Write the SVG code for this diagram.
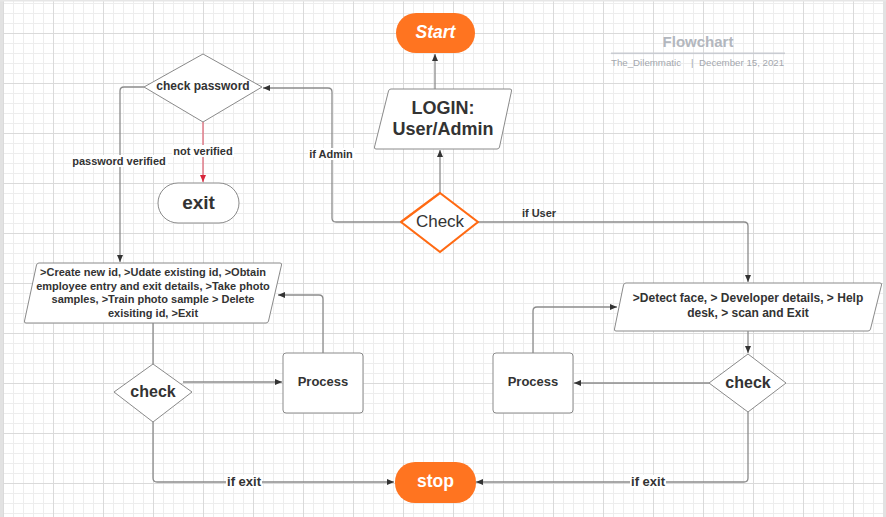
<svg xmlns="http://www.w3.org/2000/svg" width="886" height="517" viewBox="0 0 886 517">
<defs>
<pattern id="gmin" width="10" height="10" patternUnits="userSpaceOnUse" x="3" y="3"><path d="M0,0.5 H10 M0.5,0 V10" stroke="#ededed" stroke-width="1" fill="none"/></pattern>
<pattern id="gmaj" width="50" height="50" patternUnits="userSpaceOnUse" x="3" y="33"><path d="M0,0.5 H50 M0.5,0 V50" stroke="#dadada" stroke-width="1" fill="none"/></pattern>
<marker id="arr" markerWidth="8" markerHeight="8" refX="7" refY="4" orient="auto" markerUnits="userSpaceOnUse"><path d="M0,1 L7,4 L0,7 z" fill="#333"/></marker>
<marker id="arrR" markerWidth="8" markerHeight="8" refX="7" refY="4" orient="auto" markerUnits="userSpaceOnUse"><path d="M0,1 L7,4 L0,7 z" fill="#d8263a"/></marker>
<style>
.con{fill:none;stroke:#8c8c8c;stroke-width:1.3}
.shape{fill:#fff;stroke:#8a8a8a;stroke-width:1}
.t{font-family:"Liberation Sans",Arial,sans-serif;font-weight:bold;fill:#333;text-anchor:middle;dominant-baseline:central}
.lbl{font-family:"Liberation Sans",Arial,sans-serif;font-weight:bold;fill:#333;font-size:11px;text-anchor:middle;dominant-baseline:central}
.ex{font-family:"Liberation Sans",Arial,sans-serif;font-weight:bold;fill:#333;font-size:13px;text-anchor:middle;dominant-baseline:central}
.bg{fill:#fff}
</style>
</defs>
<rect width="886" height="517" fill="#fff"/>
<rect width="886" height="517" fill="url(#gmin)"/>
<rect width="886" height="517" fill="url(#gmaj)"/>
<rect x="0" y="0" width="3" height="517" fill="#e2e2e2"/>
<rect x="883" y="0" width="3" height="517" fill="#e2e2e2"/>
<rect x="0" y="0" width="886" height="1.5" fill="#e6e6e6"/>

<g id="title">
<text x="698" y="41.5" font-family="'Liberation Sans',Arial,sans-serif" font-weight="bold" font-size="15" fill="#b3b7be" text-anchor="middle" dominant-baseline="central">Flowchart</text>
<rect x="611" y="52.5" width="174" height="1.6" fill="#c9ccd2"/>
<text x="611" y="62" font-family="'Liberation Sans',Arial,sans-serif" font-size="9.7" fill="#a4a8ae" dominant-baseline="central">The_Dilemmatic</text>
<text x="691" y="62" font-family="'Liberation Sans',Arial,sans-serif" font-size="9.7" fill="#a4a8ae" dominant-baseline="central">|</text>
<text x="699" y="62" font-family="'Liberation Sans',Arial,sans-serif" font-size="9.7" fill="#a4a8ae" dominant-baseline="central">December 15, 2021</text>
</g>

<g id="connectors">
<path class="con" d="M435,89 V54" marker-end="url(#arr)"/>
<path class="con" d="M440,193 V150" marker-end="url(#arr)"/>
<path class="con" d="M401,222 H336 Q332,222 332,218 V92 Q332,88 328,88 H263" marker-end="url(#arr)"/>
<path class="con" d="M144,87 H124 Q120,87 120,91 V262" marker-end="url(#arr)"/>
<path d="M203,122 V182" fill="none" stroke="#e27c8a" stroke-width="1.5" marker-end="url(#arrR)"/>
<path class="con" d="M478,222 H744 Q748,222 748,226 V282" marker-end="url(#arr)"/>
<path class="con" d="M748,331 V353" marker-end="url(#arr)"/>
<path class="con" d="M709,383 H574" marker-end="url(#arr)"/>
<path class="con" d="M533,353 V311 Q533,307 537,307 H617" marker-end="url(#arr)"/>
<path class="con" d="M748,412 V478 Q748,482 744,482 H476" marker-end="url(#arr)"/>
<path class="con" d="M153,323 V364"/>
<path class="con" d="M183,382 H282" marker-end="url(#arr)"/>
<path class="con" d="M323,353 V299 Q323,295 319,295 H278" marker-end="url(#arr)"/>
<path class="con" d="M153,422 V478 Q153,482 157,482 H394" marker-end="url(#arr)"/>
<path class="con" d="M497,118 H505" marker-end="url(#arr)"/>
<path class="con" d="M868,307 H876" marker-end="url(#arr)"/>
<rect class="bg" x="308" y="148" width="47" height="12"/>
<text class="lbl" x="331" y="154">if Admin</text>
<rect class="bg" x="71" y="155" width="97" height="12"/>
<text class="lbl" x="119" y="161">password verified</text>
<rect class="bg" x="172" y="145" width="62" height="12"/>
<text class="lbl" x="203" y="151">not verified</text>
<text class="lbl" x="539" y="213">if User</text>
<rect class="bg" x="226" y="475" width="36" height="13"/>
<text class="ex" x="244" y="481">if exit</text>
<rect class="bg" x="630" y="475" width="36" height="13"/>
<text class="ex" x="648" y="481">if exit</text>
</g>

<g id="start">
<rect x="396" y="13" width="79" height="40" rx="20" fill="#ff7420"/>
<text class="t" x="435.5" y="32" font-size="17.5" font-style="italic" style="fill:#fff">Start</text>
</g>

<g id="login">
<path class="shape" d="M391,89 H510 Q512,89 511.5,91 L499.5,147 Q499,149 497,149 H376 Q374,149 374.5,147 L388.5,91 Q389,89 391,89 Z"/>
<text class="t" x="443" y="108" font-size="18">LOGIN:</text>
<text class="t" x="443" y="129" font-size="18">User/Admin</text>
</g>

<g id="check-main">
<path d="M440,193 L478,222 L440,252 L401,222 Z" fill="#fff" stroke="#ff6a13" stroke-width="2.2" stroke-linejoin="round"/>
<text x="440" y="221" font-family="'Liberation Sans',Arial,sans-serif" font-size="17" fill="#333" text-anchor="middle" dominant-baseline="central">Check</text>
</g>

<g id="check-password">
<path class="shape" d="M203,54 L262,87 L203,122 L144,87 Z"/>
<text class="t" x="203" y="86" font-size="12">check password</text>
</g>

<g id="exit">
<rect class="shape" x="158" y="183" width="81" height="40" rx="20"/>
<text class="t" x="198.5" y="202" font-size="19">exit</text>
</g>

<g id="admin-menu">
<path class="shape" d="M39,263 H280 Q282,263 281.5,265 L268.5,321 Q268,323 266,323 H26 Q24,323 24.5,321 L36.5,265 Q37,263 39,263 Z"/>
<text class="t" x="153" y="272" font-size="11">&gt;Create new id, &gt;Udate existing id, &gt;Obtain</text>
<text class="t" x="153" y="285.5" font-size="11">employee entry and exit details, &gt;Take photo</text>
<text class="t" x="153" y="299" font-size="11">samples, &gt;Train photo sample &gt; Delete</text>
<text class="t" x="153" y="312.5" font-size="11">exisiting id, &gt;Exit</text>
</g>

<g id="check-left">
<path class="shape" d="M153,364 L192,392 L153,422 L114,392 Z"/>
<text class="t" x="153" y="391" font-size="16">check</text>
</g>

<g id="process-left">
<rect class="shape" x="283" y="353" width="80" height="60" rx="3"/>
<text class="t" x="323" y="381" font-size="13">Process</text>
</g>

<g id="user-menu">
<path class="shape" d="M626,283 H880 Q882,283 881.5,285 L870.5,329 Q870,331 868,331 H616 Q614,331 614.5,329 L623.5,285 Q624,283 626,283 Z"/>
<text class="t" x="748" y="298" font-size="12">&gt;Detect face, &gt; Developer details, &gt; Help</text>
<text class="t" x="748" y="313" font-size="12">desk, &gt; scan and Exit</text>
</g>

<g id="check-right">
<path class="shape" d="M748,354 L786,383 L748,412 L709,383 Z"/>
<text class="t" x="748" y="382" font-size="16">check</text>
</g>

<g id="process-right">
<rect class="shape" x="493" y="353" width="80" height="60" rx="3"/>
<text class="t" x="533" y="381" font-size="13">Process</text>
</g>

<g id="stop">
<rect x="395" y="462" width="81" height="41" rx="20" fill="#ff7420"/>
<text class="t" x="435.5" y="481" font-size="17.5" style="fill:#fff">stop</text>
</g>
</svg>
